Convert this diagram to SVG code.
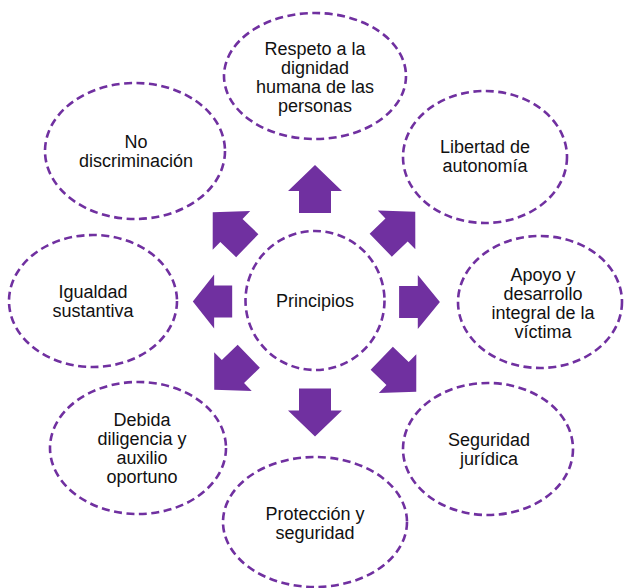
<svg xmlns="http://www.w3.org/2000/svg" width="624" height="588" viewBox="0 0 624 588">
<style>
.n{fill:#fff;stroke:#7030A0;stroke-width:2.6;stroke-dasharray:8 4.5}
.t{font-family:"Liberation Sans",Arial,sans-serif;font-size:18px;fill:#111;text-anchor:middle}
.a{fill:#7030A0}
</style>
<defs>
<path id="arr" d="M0,-24 L27,2 L16,2 L16,24 L-16,24 L-16,2 L-27,2 Z"/>
</defs>
<rect width="624" height="588" fill="#fff"/>
<g id="connectors" class="a">
<use href="#arr" transform="translate(315,189)"/>
<use href="#arr" transform="translate(315,412.5) rotate(180)"/>
<use href="#arr" transform="translate(212.5,301.5) rotate(-90) scale(1,0.82)"/>
<use href="#arr" transform="translate(419.5,302) rotate(90) scale(1,0.85)"/>
<use href="#arr" transform="translate(230,229) rotate(-46)"/>
<use href="#arr" transform="translate(398,228.5) rotate(46)"/>
<use href="#arr" transform="translate(231.5,373) rotate(-134)"/>
<use href="#arr" transform="translate(399,375) rotate(134)"/>
</g>
<g id="center">
<circle class="n" cx="315" cy="300.5" r="69.5"/>
<text class="t" x="315" y="307">Principios</text>
</g>
<g id="respeto">
<ellipse class="n" cx="315" cy="76" rx="91" ry="63"/>
<text class="t" x="315" y="55">Respeto a la</text>
<text class="t" x="315" y="74">dignidad</text>
<text class="t" x="315" y="93">humana de las</text>
<text class="t" x="315" y="112">personas</text>
</g>
<g id="libertad">
<ellipse class="n" cx="485" cy="157" rx="82" ry="66"/>
<text class="t" x="485" y="153">Libertad de</text>
<text class="t" x="485" y="172">autonomía</text>
</g>
<g id="apoyo">
<ellipse class="n" cx="540" cy="302" rx="82" ry="66"/>
<text class="t" x="543" y="280.5">Apoyo y</text>
<text class="t" x="543" y="299.5">desarrollo</text>
<text class="t" x="543" y="318.5">integral de la</text>
<text class="t" x="543" y="337.5">víctima</text>
</g>
<g id="seguridad">
<ellipse class="n" cx="488" cy="449" rx="85" ry="66"/>
<text class="t" x="489" y="446">Seguridad</text>
<text class="t" x="489" y="465">jurídica</text>
</g>
<g id="proteccion">
<ellipse class="n" cx="315" cy="522" rx="92" ry="65"/>
<text class="t" x="315" y="520">Protección y</text>
<text class="t" x="315" y="539">seguridad</text>
</g>
<g id="debida">
<ellipse class="n" cx="138" cy="448" rx="88" ry="66"/>
<text class="t" x="142" y="426">Debida</text>
<text class="t" x="142" y="445">diligencia y</text>
<text class="t" x="142" y="464">auxilio</text>
<text class="t" x="142" y="483">oportuno</text>
</g>
<g id="igualdad">
<ellipse class="n" cx="93" cy="301" rx="84" ry="66"/>
<text class="t" x="93" y="298">Igualdad</text>
<text class="t" x="93" y="317">sustantiva</text>
</g>
<g id="nodiscriminacion">
<ellipse class="n" cx="135" cy="151" rx="90" ry="68"/>
<text class="t" x="136" y="148">No</text>
<text class="t" x="136" y="167">discriminación</text>
</g>
</svg>
